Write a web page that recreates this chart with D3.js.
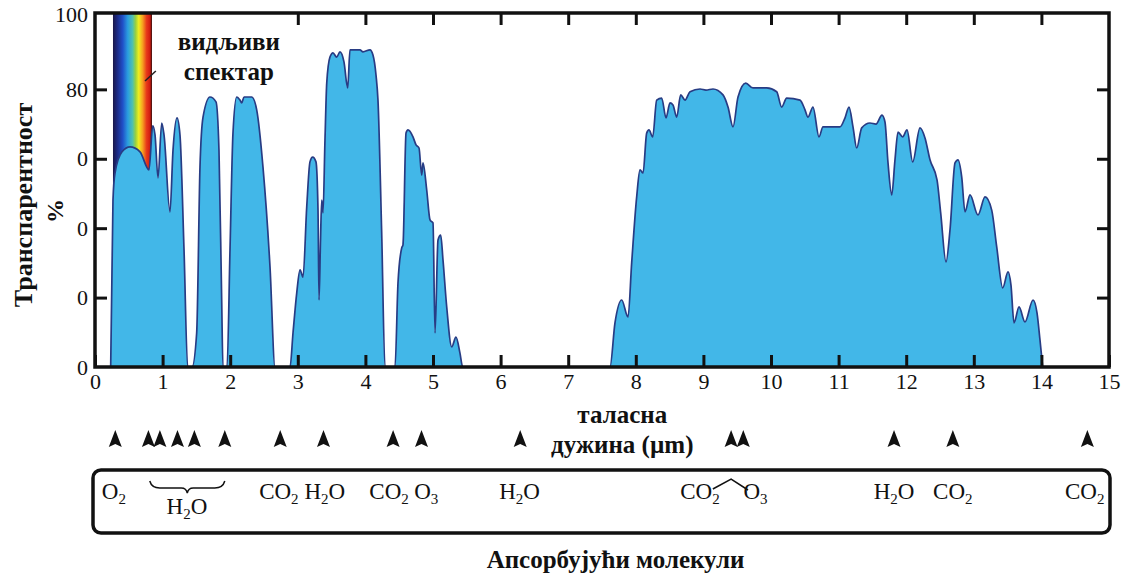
<!DOCTYPE html>
<html>
<head>
<meta charset="utf-8">
<script src="https://cdn.jsdelivr.net/npm/d3@7"></script>
<style>
body { margin: 0; background: #fff; }
text, tspan { font-family: "Liberation Serif", "DejaVu Serif", serif !important; fill: #111; }
</style>
</head>
<body>
<script>
const width = 1126;
const height = 581;

// atmospheric transmission (µm, %)
const wavelength = [
	0.232, 0.266, 0.296, 0.40, 0.518, 0.666, 0.799, 0.854, 0.888, 0.932, 0.987, 1.021, 1.109, 1.154, 1.213, 1.257, 1.317, 1.371,
	1.435, 1.504, 1.553, 1.598, 1.701, 1.790, 1.834, 1.874, 1.893,
	1.953, 1.997, 2.041, 2.096, 2.145, 2.170, 2.204, 2.318, 2.392, 2.485, 2.589, 2.663,
	2.885, 2.929, 2.984, 3.033, 3.077, 3.132, 3.180, 3.220, 3.269, 3.299, 3.314, 3.336, 3.354, 3.373, 3.402, 3.428,
	3.476, 3.521, 3.575, 3.624, 3.683, 3.738, 3.772, 3.920, 3.964, 4.068, 4.112, 4.157, 4.186, 4.241, 4.290,
	4.438, 4.482, 4.537, 4.556, 4.601, 4.630, 4.704, 4.749, 4.793, 4.833, 4.852, 4.907, 4.956, 5.000, 5.030,
	5.074, 5.114, 5.148, 5.203, 5.277, 5.340, 5.399, 5.439,
	7.618, 7.692, 7.791, 7.885, 7.939, 8.013, 8.062, 8.107, 8.161, 8.195, 8.250, 8.309, 8.383, 8.447, 8.506,
	8.550, 8.605, 8.664, 8.728, 8.802, 8.950, 9.038, 9.142, 9.290, 9.364, 9.438, 9.512, 9.626, 9.734, 9.936,
	10.084, 10.158, 10.232, 10.429, 10.503, 10.547, 10.621, 10.710, 10.769, 11.021, 11.095, 11.154, 11.213,
	11.268, 11.342, 11.464, 11.553, 11.642, 11.686, 11.731, 11.786, 11.834, 11.879, 11.948, 12.012, 12.096,
	12.204, 12.278, 12.352, 12.456, 12.510, 12.589, 12.648, 12.722, 12.766, 12.821, 12.870, 12.944, 13.062,
	13.166, 13.265, 13.339, 13.428, 13.506, 13.550, 13.595, 13.669, 13.757, 13.876, 13.935, 13.979, 14.019
];
const transmission = [
	0, 48.1, 55.9, 62.0, 63.4, 62.0, 56.8, 69.5, 66.9, 54.5, 70.3, 66.9, 44.7, 62.5, 71.8, 66.9, 33.7, 0,
	0, 9.8, 57.6, 72.0, 77.8, 76.4, 62.5, 19.3, 0,
	0, 33.7, 67.4, 77.8, 76.9, 76.1, 77.8, 77.8, 74.1, 57.6, 28.8, 0,
	0, 9.8, 21.3, 28.0, 25.9, 46.1, 59.1, 60.5, 59.1, 45.2, 19.3, 36.6, 48.1, 44.4, 65.4, 81.8,
	89.3, 90.5, 89.3, 90.8, 87.9, 80.4, 91.4, 91.4, 90.8, 91.4, 89.9, 84.1, 76.9, 38.6, 0,
	0, 24.2, 34.3, 35.2, 67.4, 68.3, 66.3, 64.0, 63.1, 55.3, 58.8, 51.0, 42.4, 41.5, 9.8,
	36.6, 38.0, 30.8, 17.3, 5.8, 8.6, 4.0, 0,
	0, 12.7, 19.3, 14.4, 30.0, 49.0, 56.8, 55.9, 67.4, 68.3, 66.3, 76.9, 77.5, 71.8, 76.1,
	75.5, 72.0, 78.4, 76.9, 79.3, 80.1, 79.8, 80.1, 78.4, 74.9, 69.2, 77.8, 81.8, 80.4, 80.4,
	79.3, 74.9, 77.5, 76.9, 74.1, 72.0, 74.9, 66.3, 69.2, 69.2, 71.8, 74.9, 69.2,
	63.1, 68.9, 70.3, 70.0, 72.6, 70.6, 58.8, 49.6, 59.7, 67.7, 66.3, 68.3, 59.1,
	68.9, 66.0, 59.7, 53.9, 44.4, 30.3, 39.5, 58.8, 59.7, 54.8, 44.7, 49.6, 43.8,
	49.0, 45.2, 34.6, 22.8, 27.4, 23.6, 12.7, 17.3, 13.0, 19.3, 15.6, 7.8, 0
];

const xTicks = d3.range(0, 16);
const yTicks = [0, 20, 40, 60, 80, 100];
// the 60/40/20 labels show only their last digit in the picture
const yTickLabels = ["0", "0", "0", "0", "80", "100"];

// absorption markers (µm)
const absorptionLines = [0.30, 0.79, 0.96, 1.22, 1.47, 1.92, 2.74, 3.38, 4.41, 4.83, 6.29, 9.41, 9.59, 11.82, 12.69, 14.68];

// absorbing molecules, with where they sit along the wavelength axis
const molecules = ["O2", "H2O", "CO2", "H2O", "CO2", "O3", "H2O", "CO2", "O3", "H2O", "CO2", "CO2"];
const moleculePos = [0.28, 1.36, 2.72, 3.40, 4.35, 4.90, 6.28, 8.95, 9.77, 11.82, 12.69, 14.64];
const moleculeRow = [0, 1, 0, 0, 0, 0, 0, 0, 0, 0, 0, 0];

const visibleBand = [0.266, 0.843];
const rainbow = ["#1a1748", "#1c2c8a", "#2050c8", "#2a9ee0", "#50c0b0", "#9ad040", "#f0ee20", "#f6a020", "#e83a1a", "#d01a10", "#301010"];
const rainbowStops = [0, 0.12, 0.25, 0.38, 0.5, 0.58, 0.66, 0.76, 0.86, 0.95, 1];

const x = d3.scaleLinear().domain([0, 15]).range([95, 1109]);
const y = d3.scaleLinear().domain([0, 102]).range([367, 13]);

const svg = d3.select("body")
	.append("svg")
	.attr("width", width)
	.attr("height", height);

const defs = svg.append("defs");
const grad = defs.append("linearGradient").attr("id", "rainbow");
grad.selectAll("stop")
	.data(rainbow)
	.enter().append("stop")
	.attr("offset", (d, i) => (rainbowStops[i] * 100) + "%")
	.attr("stop-color", d => d);

// visible spectrum strip
svg.append("rect")
	.attr("x", x(visibleBand[0]))
	.attr("y", y(102))
	.attr("width", x(visibleBand[1]) - x(visibleBand[0]))
	.attr("height", y(0) - y(102))
	.attr("fill", "url(#rainbow)");

const points = wavelength.map((w, i) => [w, transmission[i]]);

svg.append("path")
	.datum(points)
	.attr("d", d3.area().x(d => x(d[0])).y0(y(0)).y1(d => y(d[1])).curve(d3.curveMonotoneX))
	.attr("fill", "#42b7e8");
svg.append("path")
	.datum(points)
	.attr("d", d3.line().x(d => x(d[0])).y(d => y(d[1])).curve(d3.curveMonotoneX))
	.attr("fill", "none")
	.attr("stroke", "#283c84")
	.attr("stroke-width", 1.7);

// axes, ticks pointing inward
const bottomAxis = svg.append("g")
	.attr("transform", `translate(0,${y(0)})`)
	.call(d3.axisBottom(x).tickValues(xTicks).tickSize(-12).tickPadding(6));
const topAxis = svg.append("g")
	.attr("transform", `translate(0,${y(102)})`)
	.call(d3.axisTop(x).tickValues(d3.range(3, 15)).tickSize(-12).tickFormat(""));
const leftAxis = svg.append("g")
	.attr("transform", `translate(${x(0)},0)`)
	.call(d3.axisLeft(y).tickValues(yTicks).tickSize(-12).tickPadding(7)
		.tickFormat((d, i) => yTickLabels[i]));
const rightAxis = svg.append("g")
	.attr("transform", `translate(${x(15)},0)`)
	.call(d3.axisRight(y).tickValues([20, 40, 60, 80]).tickSize(-12).tickFormat(""));

[bottomAxis, topAxis, leftAxis, rightAxis].forEach(g => {
	g.attr("font-family", null);
	g.select(".domain").remove();
	g.selectAll(".tick line").attr("stroke", "#111").attr("stroke-width", 3);
	g.selectAll(".tick text").attr("font-size", "22px").attr("fill", "#111");
});
leftAxis.selectAll(".tick").filter(d => d === 0 || d === 100).select("line").remove();
leftAxis.selectAll(".tick").filter(d => d === 100).select("text").attr("y", -5);

svg.append("rect")
	.attr("x", x(0)).attr("y", y(102))
	.attr("width", x(15) - x(0)).attr("height", y(0) - y(102))
	.attr("fill", "none").attr("stroke", "#111").attr("stroke-width", 3.5);

// visible spectrum label
svg.append("line")
	.attr("x1", x(0.74)).attr("y1", y(82.4))
	.attr("x2", x(0.90)).attr("y2", y(85.3))
	.attr("stroke", "#222").attr("stroke-width", 1.5);
svg.append("text")
	.attr("x", x(1.98)).attr("y", 50)
	.attr("text-anchor", "middle").attr("font-size", "25px").attr("font-weight", "bold")
	.text("видљиви");
svg.append("text")
	.attr("x", x(1.98)).attr("y", 80)
	.attr("text-anchor", "middle").attr("font-size", "25px").attr("font-weight", "bold")
	.text("спектар");

// axis titles
svg.append("text")
	.attr("transform", "translate(32,205) rotate(-90)")
	.attr("text-anchor", "middle").attr("font-size", "26px").attr("font-weight", "bold")
	.text("Транспарентност");
svg.append("text")
	.attr("transform", "translate(63,211) rotate(-90)")
	.attr("text-anchor", "middle").attr("font-size", "24px").attr("font-weight", "bold")
	.text("%");

svg.append("text")
	.attr("x", x(7.8)).attr("y", 423)
	.attr("text-anchor", "middle").attr("font-size", "25px").attr("font-weight", "bold")
	.text("таласна");
svg.append("text")
	.attr("x", x(7.8)).attr("y", 453)
	.attr("text-anchor", "middle").attr("font-size", "25px").attr("font-weight", "bold")
	.text("дужина (µm)");

// absorption markers
svg.selectAll(".marker")
	.data(absorptionLines)
	.enter().append("path")
	.attr("class", "marker")
	.attr("transform", d => `translate(${x(d)},439)`)
	.attr("d", "M0,-9 L6.5,8 L0,5 L-6.5,8 Z")
	.attr("fill", "#111");

// absorbing molecules box
svg.append("rect")
	.attr("x", 93).attr("y", 470)
	.attr("width", 1017).attr("height", 63)
	.attr("rx", 8)
	.attr("fill", "none").attr("stroke", "#111").attr("stroke-width", 3.5);

const rowY = [499, 514];
svg.selectAll(".molecule")
	.data(molecules)
	.enter().append("text")
	.attr("class", "molecule")
	.attr("x", (d, i) => x(moleculePos[i]))
	.attr("y", (d, i) => rowY[moleculeRow[i]])
	.attr("text-anchor", "middle")
	.attr("font-size", "23px")
	.each(function(d) {
		const t = d3.select(this);
		let sub = false;
		d.match(/[A-Za-z]+|\d+/g).forEach(p => {
			const isNum = /\d/.test(p);
			t.append("tspan")
				.attr("dy", isNum ? 5 : (sub ? -5 : 0))
				.attr("font-size", isNum ? "15px" : null)
				.text(p);
			sub = isNum;
		});
	});

// brace over the grouped water lines
const b0 = x(0.81), b1 = x(1.92), bm = (b0 + b1) / 2;
svg.append("path")
	.attr("d", `M${b0},481 Q${b0 + 2},488 ${b0 + 10},488 L${bm - 6},488 Q${bm - 1},488 ${bm},493 Q${bm + 1},488 ${bm + 6},488 L${b1 - 10},488 Q${b1 - 2},488 ${b1},481`)
	.attr("fill", "none").attr("stroke", "#111").attr("stroke-width", 1.5);

// connector between the CO2 and O3 lines near 9.5 µm
svg.append("path")
	.attr("d", d3.line()([[x(9.14), 489], [x(9.41), 479], [x(9.66), 490]]))
	.attr("fill", "none").attr("stroke", "#111").attr("stroke-width", 1.5);

svg.append("text")
	.attr("x", x(7.7)).attr("y", 568)
	.attr("text-anchor", "middle").attr("font-size", "25px").attr("font-weight", "bold")
	.text("Апсорбујући молекули");
</script>
</body>
</html>
